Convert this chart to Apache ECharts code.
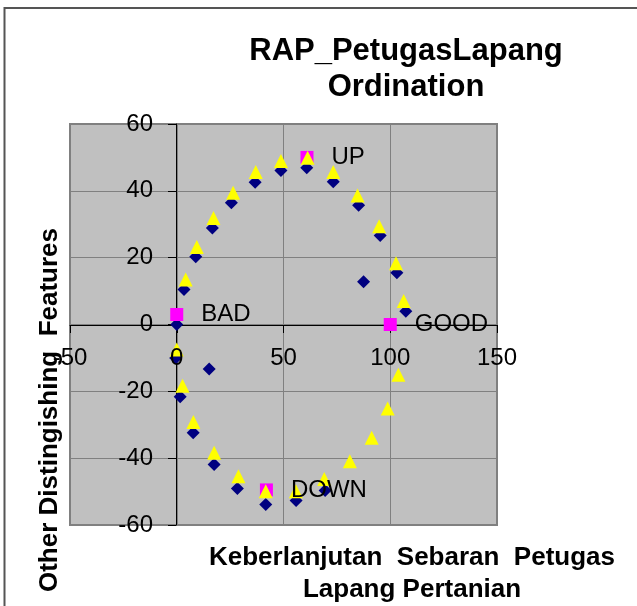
<!DOCTYPE html>
<html>
<head>
<meta charset="utf-8">
<script src="https://cdn.jsdelivr.net/npm/echarts@6/dist/echarts.min.js"></script>
<style>
  html, body { margin:0; padding:0; background:#fff; }
  #chart { width:637px; height:606px; }
</style>
</head>
<body>
<div id="chart"></div>
<script>
// series 1: navy diamonds
var diamondX = [0, 3.4, 8.9, 16.7, 25.6, 36.7, 48.8, 60.9, 73.3, 85.2, 95.3, 103.1, 107.3, 87.5, -0.5, 15.2, 1.6, 7.7, 17.5, 28.4, 41.7, 55.9, 69.5];
var diamondY = [0, 10.5, 20.3, 28.9, 36.4, 42.6, 46.1, 46.9, 42.7, 35.7, 26.6, 15.5, 4.0, 12.8, -10, -13.3, -21.6, -32.4, -41.9, -49.1, -53.9, -52.7, -49.7];
// series 2: yellow triangles
var triX = [4.2, 9.4, 17.2, 26.4, 37.0, 48.8, 61.3, 73.3, 84.7, 94.8, 102.7, 106.3, 0, 2.7, 7.8, 17.5, 28.9, 41.7, 55.8, 69.1, 81.1, 91.3, 98.8, 103.8];
var triY = [13.5, 23.2, 31.9, 39.4, 45.6, 48.9, 49.9, 45.6, 38.6, 29.4, 18.3, 7.0, -7.5, -18.3, -29.2, -38.4, -45.4, -49.9, -49.9, -46.2, -40.9, -33.9, -25.1, -15.0];
// series 3: reference points
var refNames = ['BAD', 'GOOD', 'UP', 'DOWN'];
var refX = [0, 100, 61, 42];
var refY = [3, 0, 50, -49.5];

var titleText = 'RAP_PetugasLapang\nOrdination';
var xTitle = 'Keberlanjutan  Sebaran  Petugas\nLapang Pertanian';
var yTitle = 'Other Distingishing  Features';

function pairs(xs, ys) {
  return xs.map(function (x, i) { return [x, ys[i]]; });
}

var font = '"Liberation Sans", Arial, sans-serif';
var labelStyle = {color: '#000', fontFamily: font, fontSize: 24};
var chart = echarts.init(document.getElementById('chart'), null, {renderer: 'canvas'});
chart.setOption({
  animation: false,
  backgroundColor: '#fff',
  title: {
    text: titleText,
    left: 406, top: 33, textAlign: 'center', padding: 0,
    textStyle: {fontFamily: font, fontSize: 31, fontWeight: 'bold', color: '#000', lineHeight: 36}
  },
  grid: {
    left: 70, right: 140, top: 124, bottom: 81,
    show: true, backgroundColor: '#c0c0c0', borderColor: '#808080', borderWidth: 2
  },
  // axes cross at (0,0): the offsets put the whole axis (line, ticks, labels) there
  xAxis: [
    {
      type: 'value', min: -50, max: 150, interval: 50,
      position: 'bottom', offset: -200,
      axisLine: {onZero: false, lineStyle: {color: '#000', width: 1}},
      axisTick: {show: true, length: 8, lineStyle: {color: '#000'}},
      axisLabel: {show: false},
      splitLine: {show: true, lineStyle: {color: '#808080', width: 1}}
    },
    {
      // label-only copy, drawn above the markers as in the original
      type: 'value', min: -50, max: 150, interval: 50,
      position: 'bottom', offset: -200, z: 5,
      axisLine: {show: false, onZero: false},
      axisTick: {show: false},
      axisLabel: Object.assign({margin: 21, hideOverlap: false}, labelStyle),
      splitLine: {show: false}
    }
  ],
  yAxis: {
    type: 'value', min: -60, max: 60, interval: 20,
    position: 'left', offset: -106,
    axisLine: {onZero: false, lineStyle: {color: '#000', width: 1}},
    axisTick: {show: true, length: 8, lineStyle: {color: '#000'}},
    axisLabel: Object.assign({margin: 23, hideOverlap: false}, labelStyle),
    splitLine: {show: true, lineStyle: {color: '#808080', width: 1}}
  },
  series: [
    {
      type: 'scatter', symbol: 'diamond', symbolSize: 13,
      itemStyle: {color: '#000080', opacity: 1},
      data: pairs(diamondX, diamondY)
    },
    {
      type: 'scatter', symbol: 'rect', symbolSize: 13,
      itemStyle: {color: '#ff00ff', opacity: 1},
      label: Object.assign({show: true, position: 'right', distance: 18, formatter: '{b}'}, labelStyle),
      data: refNames.map(function (n, i) { return {name: n, value: [refX[i], refY[i]]}; })
    },
    {
      type: 'scatter', symbol: 'triangle', symbolSize: 14,
      itemStyle: {color: '#ffff00', opacity: 1},
      data: pairs(triX, triY)
    }
  ],
  graphic: [
    {type: 'rect', shape: {x: 4.5, y: 8, width: 700, height: 700}, silent: true,
      style: {fill: 'none', stroke: '#555', lineWidth: 2}},
    {type: 'text', x: 412, y: 542, silent: true,
      style: {text: xTitle, fontFamily: font, fontSize: 26, fontWeight: 'bold', fill: '#000',
        textAlign: 'center', lineHeight: 32}},
    {type: 'text', x: 50, y: 410, rotation: Math.PI / 2, silent: true,
      style: {text: yTitle, fontFamily: font, fontSize: 26, fontWeight: 'bold', fill: '#000',
        textAlign: 'center', textVerticalAlign: 'middle'}}
  ]
});
</script>
</body>
</html>
